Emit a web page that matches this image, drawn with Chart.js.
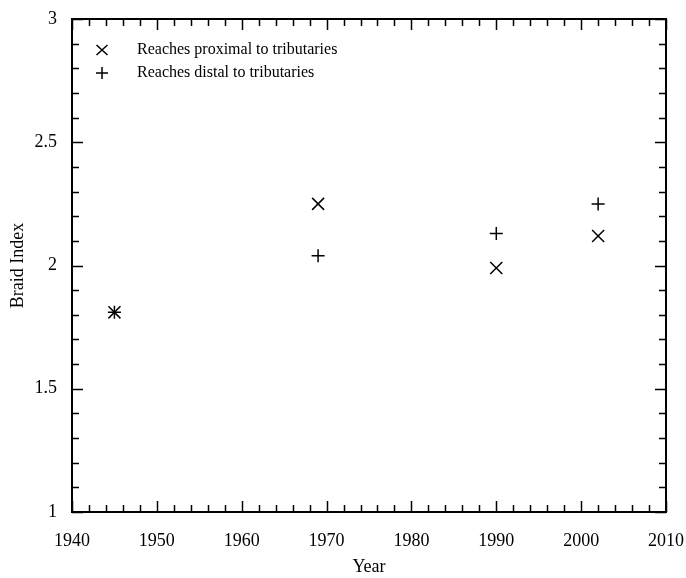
<!DOCTYPE html>
<html>
<head>
<meta charset="utf-8">
<script src="https://cdn.jsdelivr.net/npm/chart.js@4"></script>
<style>
  body { margin: 0; background: #fff; }
  canvas { display: block; }
</style>
</head>
<body>
<canvas id="braidChart" width="686" height="578"></canvas>
<script>
// survey years and braid index per reach group
var years = [1945, 1969, 1990, 2002];
var proximal = [1.81, 2.25, 1.99, 2.12];
var distal = [1.81, 2.04, 2.13, 2.25];
var seriesLabels = ["Reaches proximal to tributaries", "Reaches distal to tributaries"];
var xTickLabels = [1940, 1950, 1960, 1970, 1980, 1990, 2000, 2010];
var yTickLabels = [1, 1.5, 2, 2.5, 3];

var serif = "'Liberation Serif', 'Times New Roman', serif";

function toPoints(xs, ys) {
  return xs.map(function (x, i) { return { x: x, y: ys[i] }; });
}

// box around the plot with inward ticks on all four sides
var frameTicks = {
  id: "frameTicks",
  afterDatasetsDraw: function (chart) {
    var ctx = chart.ctx;
    var a = chart.chartArea;
    var xs = chart.scales.x;
    var ys = chart.scales.y;
    ctx.save();
    ctx.strokeStyle = "#000";
    ctx.lineWidth = 1.5;
    ctx.beginPath();
    // x ticks: major every 10, minor every 2
    for (var v = xs.min; v <= xs.max + 1e-6; v += 2) {
      var px = Math.round(xs.getPixelForValue(v)) + 0.5;
      var len = (Math.round(v) % 10 === 0) ? 11 : 7;
      ctx.moveTo(px, a.bottom); ctx.lineTo(px, a.bottom - len);
      ctx.moveTo(px, a.top); ctx.lineTo(px, a.top + len);
    }
    // y ticks: major every 0.5, minor every 0.1
    for (var i = 0; i <= Math.round((ys.max - ys.min) * 10); i++) {
      var val = ys.min + i * 0.1;
      var py = Math.round(ys.getPixelForValue(val)) + 0.5;
      var l = (i % 5 === 0) ? 11 : 7;
      ctx.moveTo(a.left, py); ctx.lineTo(a.left + l, py);
      ctx.moveTo(a.right, py); ctx.lineTo(a.right - l, py);
    }
    ctx.stroke();
    ctx.lineWidth = 2;
    ctx.strokeRect(a.left, a.top, a.right - a.left, a.bottom - a.top);
    ctx.restore();
  }
};

// legend inside the top-left corner of the plot
var innerLegend = {
  id: "innerLegend",
  afterDraw: function (chart) {
    var ctx = chart.ctx;
    var a = chart.chartArea;
    var mx = a.left + 30;
    var tx = a.left + 65;
    var rows = [a.top + 31, a.top + 54];
    ctx.save();
    ctx.strokeStyle = "#000";
    ctx.lineWidth = 1.5;
    ctx.beginPath();
    // ×
    ctx.moveTo(mx - 5.5, rows[0] - 5); ctx.lineTo(mx + 5.5, rows[0] + 5);
    ctx.moveTo(mx - 5.5, rows[0] + 5); ctx.lineTo(mx + 5.5, rows[0] - 5);
    // +
    ctx.moveTo(mx - 6, rows[1]); ctx.lineTo(mx + 6, rows[1]);
    ctx.moveTo(mx, rows[1] - 6); ctx.lineTo(mx, rows[1] + 6);
    ctx.stroke();
    ctx.fillStyle = "#000";
    ctx.font = "16px " + serif;
    ctx.textBaseline = "middle";
    ctx.fillText(seriesLabels[0], tx, rows[0]);
    ctx.fillText(seriesLabels[1], tx, rows[1]);
    ctx.restore();
  }
};

// keep tick labels from pushing the plot area around
function fixPadding(s) {
  s.paddingLeft = 0;
  s.paddingRight = 0;
  s.paddingTop = 0;
  s.paddingBottom = 0;
}

var ctx = document.getElementById("braidChart").getContext("2d");
var chart = new Chart(ctx, {
  type: "scatter",
  data: {
    datasets: [
      {
        label: seriesLabels[0],
        data: toPoints(years, proximal),
        pointStyle: "crossRot",
        pointRadius: 8.5,
        borderColor: "#000",
        borderWidth: 1.5,
      },
      {
        label: seriesLabels[1],
        data: toPoints(years, distal),
        pointStyle: "cross",
        pointRadius: 6.5,
        borderColor: "#000",
        borderWidth: 1.5,
      },
    ],
  },
  options: {
    responsive: false,
    animation: false,
    layout: { padding: { top: 19, right: 20, left: 0, bottom: 0 } },
    plugins: { legend: { display: false }, tooltip: { enabled: false } },
    scales: {
      x: {
        type: "linear",
        min: xTickLabels[0],
        max: xTickLabels[xTickLabels.length - 1],
        afterBuildTicks: function (s) {
          s.ticks = xTickLabels.map(function (v) { return { value: v }; });
        },
        ticks: {
          color: "#000",
          font: { family: serif, size: 18 },
          padding: 18,
          maxRotation: 0,
          callback: function (v) { return String(v); },
        },
        grid: { display: false, drawTicks: false },
        border: { display: false },
        title: {
          display: true,
          text: "Year",
          color: "#000",
          font: { family: serif, size: 18 },
          padding: { top: 0, bottom: 0 },
        },
        afterFit: function (s) { s.height = 66; fixPadding(s); },
      },
      y: {
        type: "linear",
        min: yTickLabels[0],
        max: yTickLabels[yTickLabels.length - 1],
        afterBuildTicks: function (s) {
          s.ticks = yTickLabels.map(function (v) { return { value: v }; });
        },
        ticks: {
          color: "#000",
          font: { family: serif, size: 18 },
          padding: 15,
          callback: function (v) { return String(v); },
        },
        grid: { display: false, drawTicks: false },
        border: { display: false },
        title: {
          display: true,
          text: "Braid Index",
          color: "#000",
          font: { family: serif, size: 18 },
          padding: { top: 7, bottom: 0 },
        },
        afterFit: function (s) { s.width = 72; fixPadding(s); },
      },
    },
  },
  plugins: [frameTicks, innerLegend],
});
</script>
</body>
</html>
